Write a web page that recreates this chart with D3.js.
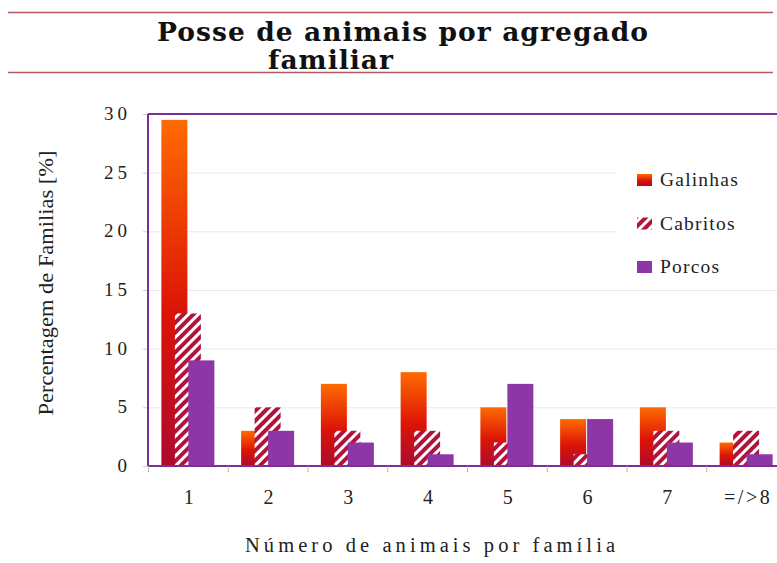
<!DOCTYPE html>
<html>
<head>
<meta charset="utf-8">
<script src="https://cdn.jsdelivr.net/npm/d3@7"></script>
<style>
  body { margin: 0; background: #fff; }
  svg { display: block; }
  .tick-y, .tick-x, .legend-label, .axis-title { font-family: "Liberation Serif", "DejaVu Serif", serif; fill: #222; }
</style>
</head>
<body>
<div id="chart"></div>
<script>
const categories = ['1', '2', '3', '4', '5', '6', '7', '=/>8'];
const seriesNames = ['Galinhas', 'Cabritos', 'Porcos'];
const galinhas = [29.5, 3, 7, 8, 5, 4, 5, 2];
const cabritos = [13, 5, 3, 3, 2, 1, 3, 3];
const porcos = [9, 3, 2, 1, 7, 4, 2, 1];
const yTicks = [0, 5, 10, 15, 20, 25, 30];

const width = 777, height = 563;
const plot = {left: 148, right: 786, top: 114, bottom: 466};

const svg = d3.select('#chart').append('svg')
  .attr('width', width)
  .attr('height', height);

const defs = svg.append('defs');
const grad = defs.append('linearGradient')
  .attr('id', 'galGrad')
  .attr('x1', 0).attr('y1', 0).attr('x2', 0).attr('y2', 1);
grad.append('stop').attr('offset', '0%').attr('stop-color', '#ff6a00');
grad.append('stop').attr('offset', '55%').attr('stop-color', '#dc1406');
grad.append('stop').attr('offset', '100%').attr('stop-color', '#ad0a2e');

const hatch = defs.append('pattern')
  .attr('id', 'cabHatch')
  .attr('patternUnits', 'userSpaceOnUse')
  .attr('width', 7).attr('height', 7)
  .attr('patternTransform', 'rotate(45)');
hatch.append('rect').attr('width', 7).attr('height', 7).attr('fill', '#fff');
hatch.append('rect').attr('width', 4).attr('height', 7).attr('fill', '#b0143c');

// title block
svg.append('line')
  .attr('x1', 8).attr('x2', 773).attr('y1', 12.5).attr('y2', 12.5)
  .attr('stroke', '#b85a62').attr('stroke-width', 1.5);
svg.append('line')
  .attr('x1', 8).attr('x2', 773).attr('y1', 72.5).attr('y2', 72.5)
  .attr('stroke', '#b85a62').attr('stroke-width', 1.5);

svg.append('text')
  .attr('font-family', 'Georgia, "DejaVu Serif", serif')
  .attr('font-weight', 'bold')
  .attr('font-size', 26.5)
  .attr('fill', '#111')
  .attr('x', 157).attr('y', 41)
  .attr('textLength', 491)
  .attr('lengthAdjust', 'spacing')
  .text('Posse de animais por agregado');
svg.append('text')
  .attr('font-family', 'Georgia, "DejaVu Serif", serif')
  .attr('font-weight', 'bold')
  .attr('font-size', 26.5)
  .attr('fill', '#111')
  .attr('x', 268).attr('y', 69)
  .attr('textLength', 125)
  .attr('lengthAdjust', 'spacing')
  .text('familiar');

const x = d3.scaleBand()
  .domain(categories)
  .range([plot.left, plot.right]);

const offset = d3.scalePoint()
  .domain(seriesNames)
  .range([-13.5, 13.5]);

const y = d3.scaleLinear()
  .domain([0, 30])
  .range([plot.bottom, plot.top]);

// gridlines
svg.append('g')
  .selectAll('line')
  .data(yTicks.filter(d => d > 0 && d < 30))
  .enter().append('line')
  .attr('x1', plot.left).attr('x2', plot.right)
  .attr('y1', d => y(d) + 0.5).attr('y2', d => y(d) + 0.5)
  .attr('stroke', '#ebe7ee').attr('stroke-width', 1);

// y tick marks and labels
svg.append('g')
  .selectAll('line')
  .data(yTicks)
  .enter().append('line')
  .attr('x1', plot.left - 5).attr('x2', plot.left)
  .attr('y1', d => y(d) + 0.5).attr('y2', d => y(d) + 0.5)
  .attr('stroke', '#cfcad3');

svg.append('g')
  .selectAll('text')
  .data(yTicks)
  .enter().append('text')
  .attr('class', 'tick-y')
  .attr('x', 131)
  .attr('y', d => y(d) + 6)
  .attr('text-anchor', 'end')
  .attr('font-size', 19)
  .attr('letter-spacing', 4)
  .text(d => d);

// bars
const barW = 26;
const series = [
  {name: 'Galinhas', values: galinhas, fill: 'url(#galGrad)'},
  {name: 'Cabritos', values: cabritos, fill: 'url(#cabHatch)'},
  {name: 'Porcos', values: porcos, fill: '#8d36a6'}
];

series.forEach(s => {
  svg.append('g')
    .selectAll('rect')
    .data(s.values)
    .enter().append('rect')
    .attr('x', (d, i) => x(categories[i]) + x.bandwidth() / 2 + offset(s.name) - barW / 2)
    .attr('width', barW)
    .attr('y', d => y(d))
    .attr('height', d => y(0) - y(d))
    .attr('fill', s.fill);
});

// frame
svg.append('line')
  .attr('x1', plot.left).attr('x2', plot.right)
  .attr('y1', plot.top).attr('y2', plot.top)
  .attr('stroke', '#7b2d98').attr('stroke-width', 2);
svg.append('line')
  .attr('x1', plot.left).attr('x2', plot.left)
  .attr('y1', plot.top).attr('y2', plot.bottom)
  .attr('stroke', '#7b2d98').attr('stroke-width', 2);
svg.append('line')
  .attr('x1', plot.left).attr('x2', plot.right)
  .attr('y1', plot.bottom).attr('y2', plot.bottom)
  .attr('stroke', '#7b2d98').attr('stroke-width', 2);

// x tick marks and labels
svg.append('g')
  .selectAll('line')
  .data(categories)
  .enter().append('line')
  .attr('x1', d => x(d) + 0.5).attr('x2', d => x(d) + 0.5)
  .attr('y1', plot.bottom).attr('y2', plot.bottom + 6)
  .attr('stroke', '#b8b2bd');

svg.append('g')
  .selectAll('text')
  .data(categories)
  .enter().append('text')
  .attr('class', 'tick-x')
  .attr('x', d => x(d) + x.bandwidth() / 2 + 2)
  .attr('y', 504)
  .attr('text-anchor', 'middle')
  .attr('font-size', 20)
  .attr('letter-spacing', 2.5)
  .text(d => d);

// axis titles
svg.append('text')
  .attr('class', 'axis-title')
  .attr('x', 245)
  .attr('y', 552)
  .attr('font-size', 20.5)
  .attr('textLength', 370)
  .attr('lengthAdjust', 'spacing')
  .text('Número de animais por família');

svg.append('text')
  .attr('class', 'axis-title')
  .attr('transform', 'translate(53,283) rotate(-90)')
  .attr('text-anchor', 'middle')
  .attr('font-size', 21)
  .attr('textLength', 265)
  .attr('lengthAdjust', 'spacingAndGlyphs')
  .text('Percentagem de Familias [%]');

// legend
const legend = svg.append('g');
legend.append('rect')
  .attr('x', 616).attr('y', 150)
  .attr('width', 170).attr('height', 140)
  .attr('fill', '#fff');

const legendY = d3.scalePoint()
  .domain(seriesNames)
  .range([180, 267]);

const legendItems = legend.selectAll('g.item')
  .data(series)
  .enter().append('g')
  .attr('class', 'item')
  .attr('transform', d => `translate(637,${legendY(d.name)})`);

legendItems.append('rect')
  .attr('x', 0).attr('y', -6)
  .attr('width', 15).attr('height', 12)
  .attr('fill', d => d.fill);

legendItems.append('text')
  .attr('class', 'legend-label')
  .attr('x', 23)
  .attr('y', 6)
  .attr('font-size', 19.5)
  .attr('letter-spacing', 1.2)
  .text(d => d.name);
</script>
</body>
</html>
